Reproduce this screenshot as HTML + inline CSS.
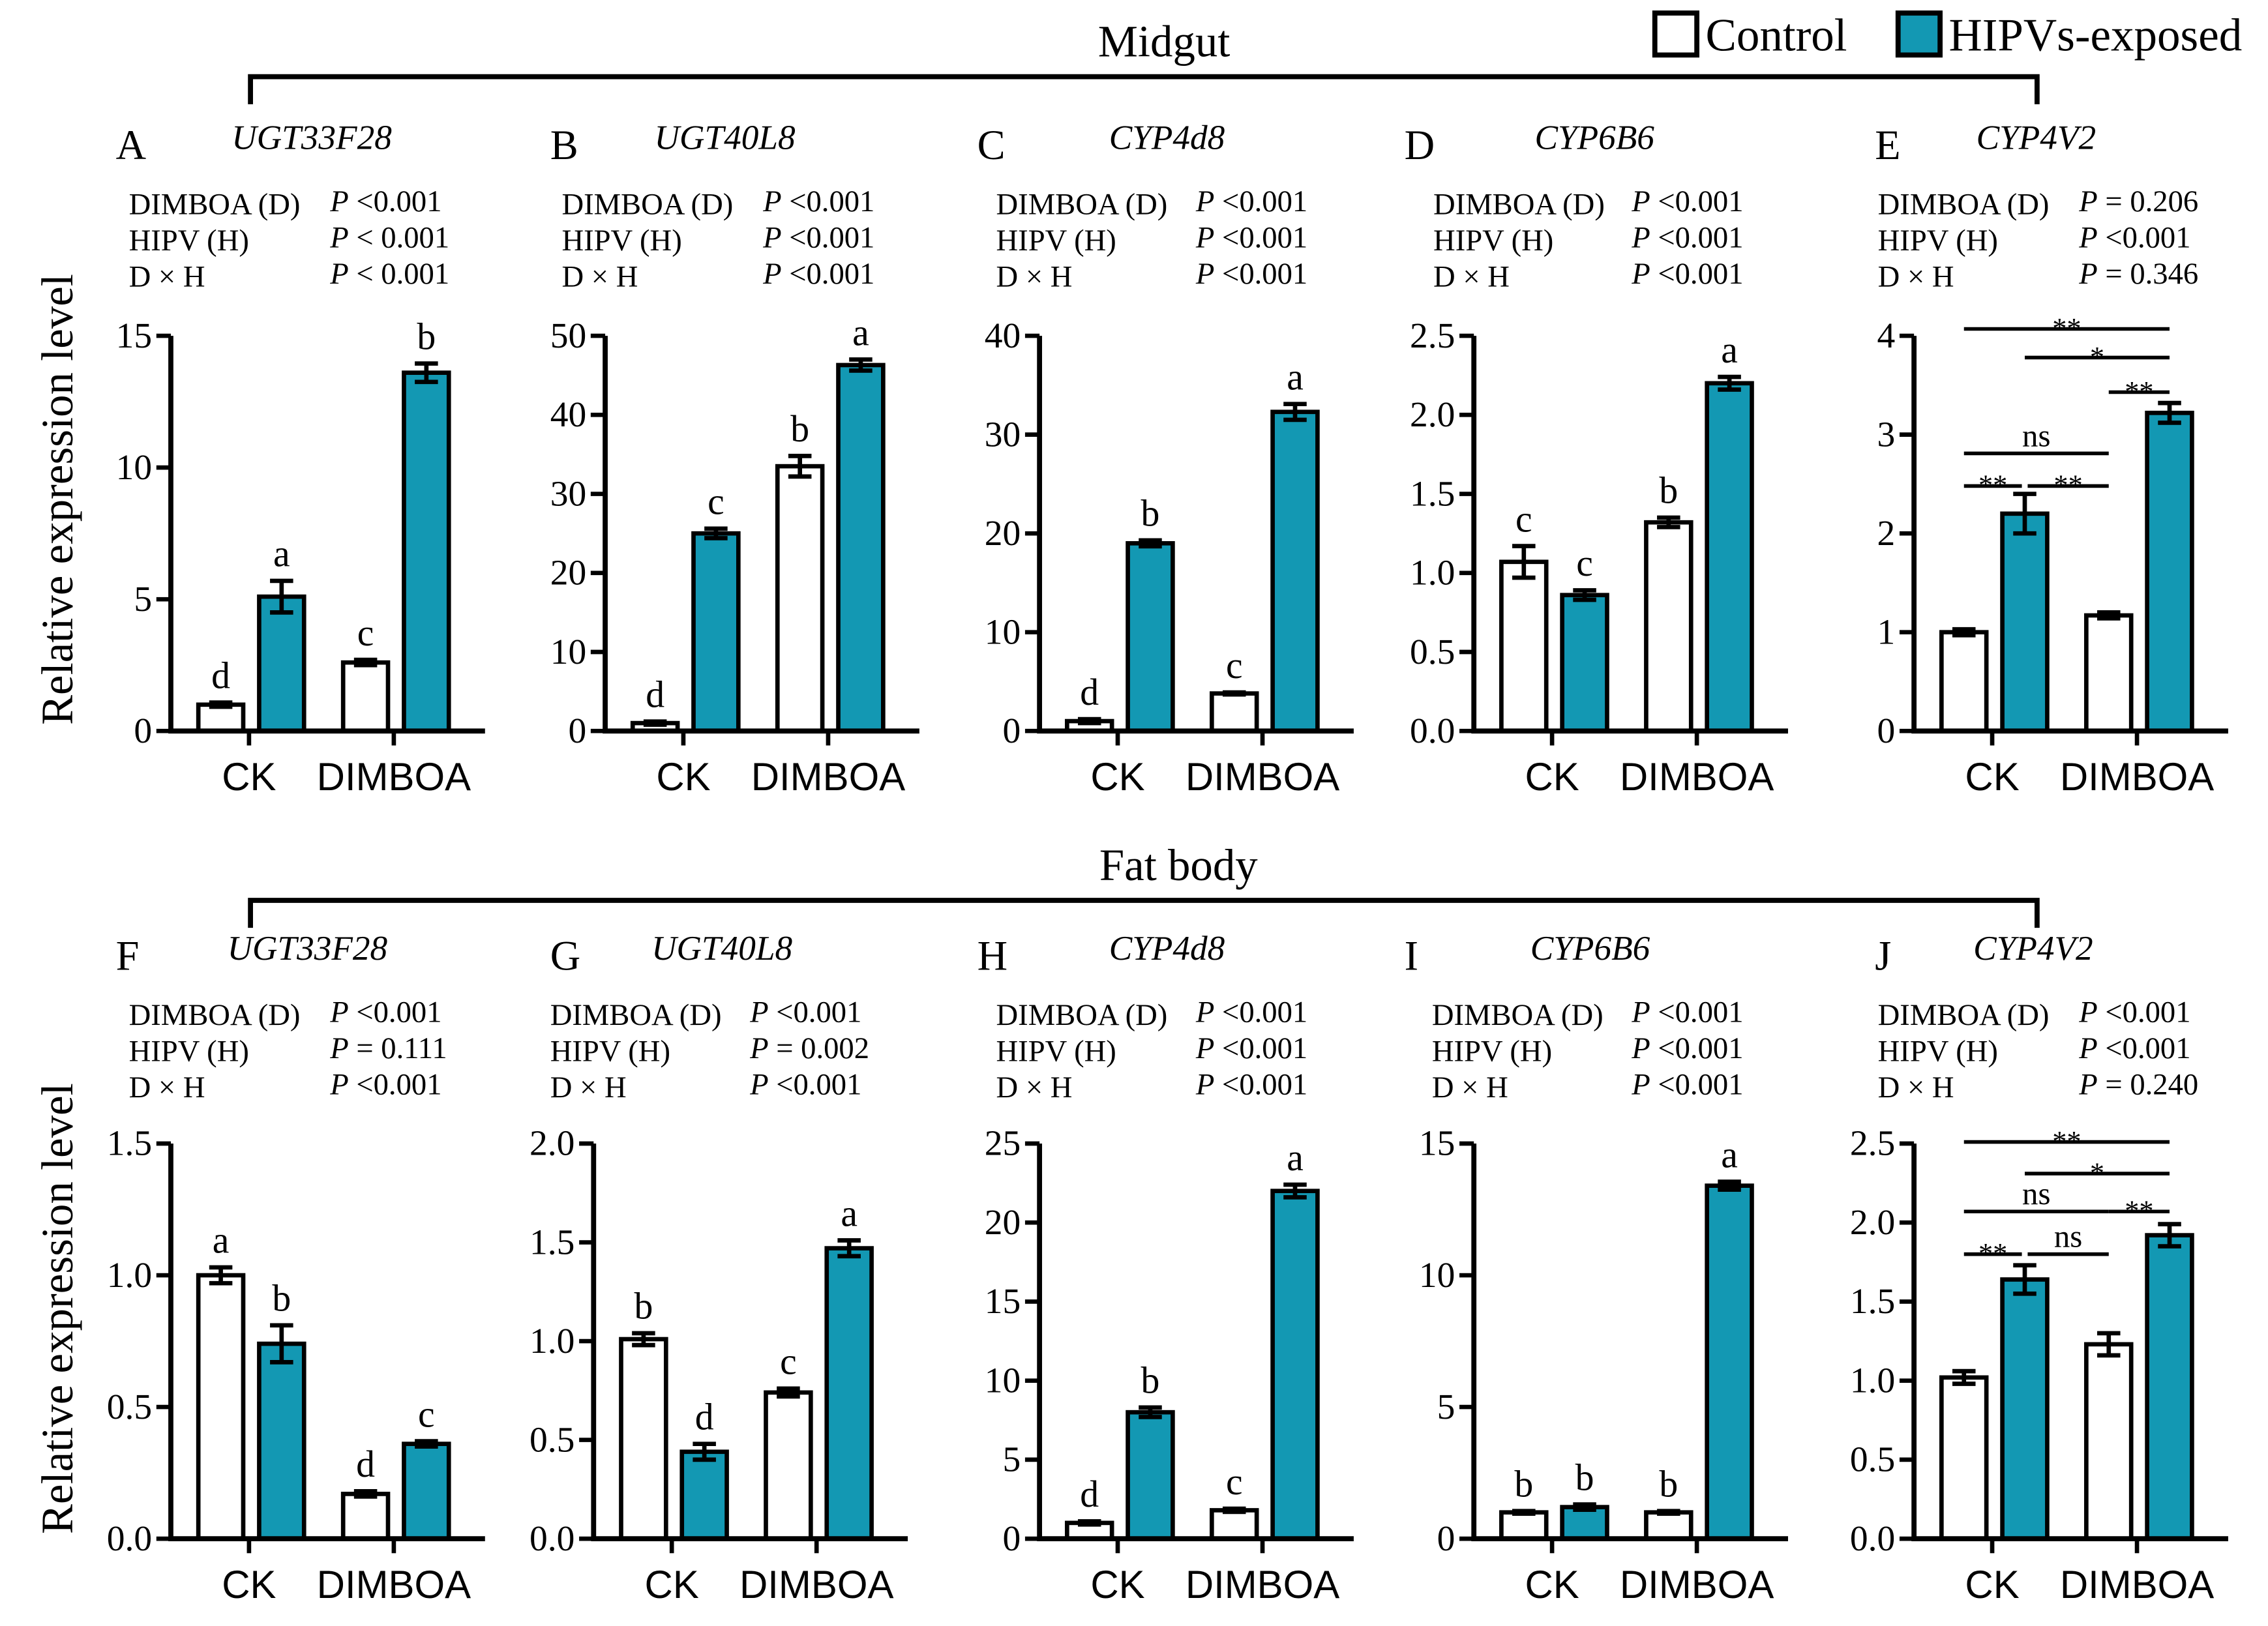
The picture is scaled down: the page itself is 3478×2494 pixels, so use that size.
<!DOCTYPE html>
<html><head><meta charset="utf-8"><style>
html,body{margin:0;padding:0;background:#fff;}
svg{display:block;font-family:"Liberation Serif",serif;}
</style></head><body>
<svg id="fig" xmlns="http://www.w3.org/2000/svg" width="3478" height="2494" viewBox="0 0 1566.5 1123.3">
<g id="static">
<text x="804" y="39" font-size="31" text-anchor="middle">Midgut</text>
<path d="M173,72 V53 H1407 V72" fill="none" stroke="#000" stroke-width="3.5"/>
<text x="814" y="608" font-size="31" text-anchor="middle">Fat body</text>
<path d="M173,641 V622 H1407 V641" fill="none" stroke="#000" stroke-width="3.5"/>
<g>
<rect x="1143" y="9" width="29" height="29" fill="#fff" stroke="#000" stroke-width="3.5"/>
<text x="1178" y="35" font-size="32">Control</text>
<rect x="1311" y="9" width="29" height="29" fill="#1398b3" stroke="#000" stroke-width="3.5"/>
<text x="1346" y="35" font-size="32">HIPVs-exposed</text>
</g>
<text transform="translate(50,345) rotate(-90)" font-size="31" text-anchor="middle">Relative expression level</text>
<text transform="translate(50,904) rotate(-90)" font-size="31" text-anchor="middle">Relative expression level</text>
</g>
<g id="panels"></g>
</svg>
<script>
const panelIds = ["A","B","C","D","E","F","G","H","I","J"];
const genes = ["UGT33F28","UGT40L8","CYP4d8","CYP6B6","CYP4V2","UGT33F28","UGT40L8","CYP4d8","CYP6B6","CYP4V2"];
const statD = ["P <0.001","P <0.001","P <0.001","P <0.001","P = 0.206","P <0.001","P <0.001","P <0.001","P <0.001","P <0.001"];
const statH = ["P < 0.001","P <0.001","P <0.001","P <0.001","P <0.001","P = 0.111","P = 0.002","P <0.001","P <0.001","P <0.001"];
const statDH = ["P < 0.001","P <0.001","P <0.001","P <0.001","P = 0.346","P <0.001","P <0.001","P <0.001","P <0.001","P = 0.240"];
const yMax = [15,50,40,2.5,4,1.5,2.0,25,15,2.5];
const yStep = [5,10,10,0.5,1,0.5,0.5,5,5,0.5];
const tickDecimals = [0,0,0,1,0,1,1,0,0,1];
const values = [
 [1.0,5.1,2.6,13.6],[1.0,25.0,33.5,46.3],[1.0,19.0,3.8,32.3],[1.07,0.86,1.32,2.2],[1.0,2.2,1.17,3.22],
 [1.0,0.74,0.17,0.36],[1.01,0.44,0.74,1.47],[1.0,8.0,1.8,22.0],[1.0,1.2,1.0,13.4],[1.02,1.64,1.23,1.92]];
const errors = [
 [0.08,0.6,0.1,0.35],[0.2,0.6,1.3,0.7],[0.2,0.3,0.1,0.8],[0.1,0.03,0.03,0.04],[0.03,0.2,0.03,0.1],
 [0.03,0.07,0.01,0.01],[0.03,0.04,0.02,0.04],[0.1,0.3,0.1,0.4],[0.05,0.1,0.05,0.15],[0.04,0.09,0.07,0.07]];
const letters = [["d","a","c","b"],["d","c","b","a"],["d","b","c","a"],["c","c","b","a"],null,
 ["a","b","d","c"],["b","d","c","a"],["d","b","c","a"],["b","b","b","a"],null];
const categories = ["CK","DIMBOA"];
// significance comparisons: [fromBar, toBar, y value, label]
const sigE = [[0,3,4.07,"**"],[1,3,3.78,"*"],[2,3,3.43,"**"],[0,2,2.81,"ns"],[0,1,2.48,"**"],[1,2,2.48,"**"]];
const sigJ = [[0,3,2.51,"**"],[1,3,2.31,"*"],[0,2,2.07,"ns"],[2,3,2.07,"**"],[0,1,1.80,"**"],[1,2,1.80,"ns"]];

const axisX = [118,418,718,1018,1322,118,410,718,1018,1322];
const letterX = [80,380,675,970,1295,80,380,675,970,1295];
const geneX = [160,452,766,1060,1365,157,450,766,1057,1363];
const statX = [89,388,688,990,1297,89,380,688,989,1297];
const pX = [228,527,826,1127,1436,228,518,826,1127,1436];
const NS="http://www.w3.org/2000/svg";
const root=document.getElementById('panels');
function mk(tag,attrs,parent){const e=document.createElementNS(NS,tag);for(const k in attrs)e.setAttribute(k,attrs[k]);parent.appendChild(e);return e;}
const barOff=[[19,50],[61,92],[119,150],[161,192]];
for(let p=0;p<10;p++){
 const row=p<5?0:1;
 const y0=row?1063:505, yTop=row?790:232;
 const ax=axisX[p];
 const ys=v=>y0-(v/yMax[p])*(y0-yTop);
 const g=mk('g',{},root);
 
 
 const dy=row?560:0;
 let t=mk('text',{x:letterX[p],y:110+dy,'font-size':29},g);t.textContent=panelIds[p];
 
 
 t=mk('text',{x:geneX[p],y:103+dy,'font-size':24,'font-style':'italic'},g);t.textContent=genes[p];
 
 
 const labs=["DIMBOA (D)","HIPV (H)","D × H"], sv=[statD[p],statH[p],statDH[p]];
 for(let i=0;i<3;i++){
  t=mk('text',{x:statX[p],y:148+dy+i*25,'font-size':21},g);t.textContent=labs[i];
  
  
  t=mk('text',{x:pX[p],y:146+dy+i*25,'font-size':21},g);
  const it=mk('tspan',{'font-style':'italic'},t);it.textContent='P';
  const rest=mk('tspan',{},t);rest.textContent=sv[i].slice(1);
  
  
 }
 for(let b=0;b<4;b++){
  const v=values[p][b], e=errors[p][b];
  const x1=ax+barOff[b][0], x2=ax+barOff[b][1], xc=(x1+x2)/2;
  const r=mk('rect',{x:x1,y:ys(v),width:x2-x1,height:y0-ys(v),fill:b%2?'#1398b3':'#fff',stroke:'#000','stroke-width':3},g);
  
  
  const eb=mk('path',{d:`M${xc},${ys(v+e)}V${ys(Math.max(v-e,0))}M${xc-8},${ys(v+e)}H${xc+8}M${xc-8},${ys(v-e)}H${xc+8}`,stroke:'#000','stroke-width':3,fill:'none'},g);
  
  
  if(letters[p]){
   t=mk('text',{x:xc,y:ys(v+e)-10,'font-size':26,'text-anchor':'middle'},g);t.textContent=letters[p][b];
   
   
  }
 }
 const axl=mk('path',{d:`M${ax},${yTop}V${y0}H${ax+217}`,stroke:'#000','stroke-width':3.5,fill:'none'},g);
 
 
 const n=Math.round(yMax[p]/yStep[p]);
 for(let i=0;i<=n;i++){
  const v=i*yStep[p], yy=ys(v);
  const tk=mk('line',{x1:ax-10,x2:ax,y1:yy,y2:yy,stroke:'#000','stroke-width':3},g);
  
  
  t=mk('text',{x:ax-13,y:yy+8,'font-size':25,'text-anchor':'end'},g);t.textContent=v.toFixed(tickDecimals[p]);
  
  
 }
 for(let c=0;c<2;c++){
  const xc=ax+54+c*100;
  const tk=mk('line',{x1:xc,x2:xc,y1:y0,y2:y0+10,stroke:'#000','stroke-width':3},g);
  
  
  t=mk('text',{x:xc,y:y0+41,'font-size':27,'text-anchor':'middle','font-family':'"Liberation Sans",sans-serif'},g);t.textContent=categories[c];
  
  
 }
 const sig=p===4?sigE:(p===9?sigJ:null);
 if(sig){
  for(const s of sig){
   const xa=ax+(barOff[s[0]][0]+barOff[s[0]][1])/2+(s[0]===1&&s[1]===2?2:0);
   const xb=ax+(barOff[s[1]][0]+barOff[s[1]][1])/2-(s[0]===0&&s[1]===1?2:0);
   const yy=ys(s[2]);
   const ln=mk('line',{x1:xa,x2:xb,y1:yy,y2:yy,stroke:'#000','stroke-width':2.5},g);
   
   
   t=mk('text',{x:(xa+xb)/2,y:yy-(s[3]==='ns'?5:-6),'font-size':s[3]==='ns'?22:20,'text-anchor':'middle'},g);t.textContent=s[3];
   
   
  }
 }
}
</script>
</body></html>
